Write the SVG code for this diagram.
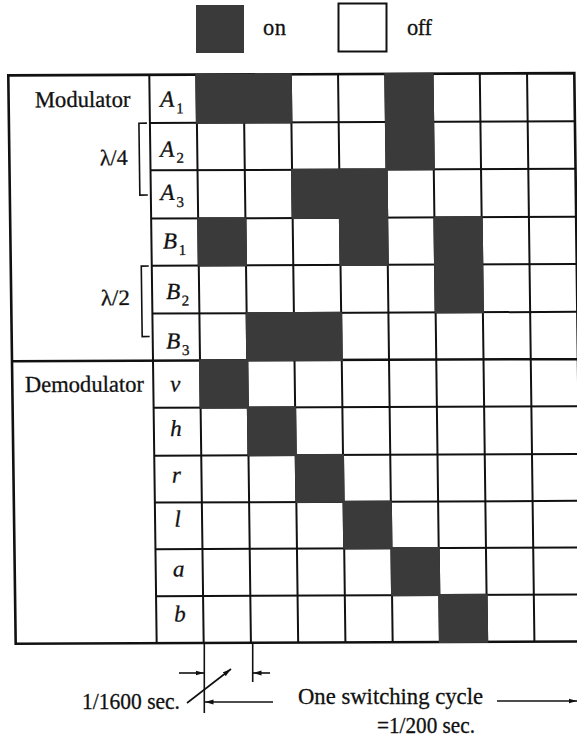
<svg xmlns="http://www.w3.org/2000/svg" width="577" height="740" viewBox="0 0 577 740">
<defs>
<style>
.t{font-family:"Liberation Serif","Times New Roman",serif;fill:#111;stroke:#111;stroke-width:0.3}
.it{font-family:"Liberation Serif","Times New Roman",serif;font-style:italic;fill:#111;stroke:#111;stroke-width:0.3}
.g{stroke:#111;stroke-width:2;fill:none}
.b{stroke:#111;stroke-width:2.6;fill:none}
.on{fill:#3a3a3a}
.ln{stroke:#111;stroke-width:1.6;fill:none}
</style>
<marker id="ah" markerUnits="userSpaceOnUse" markerWidth="9" markerHeight="6" refX="8.5" refY="3" orient="auto">
<path d="M0,0.6 L8.5,3 L0,5.4 z" fill="#111"/>
</marker>
</defs>
<rect width="577" height="740" fill="#fff"/>

<g id="legend">
<g id="legend-on"><rect class="on" x="196" y="5" width="48" height="48"/><text class="t" x="263" y="35" font-size="22.5" textLength="23">on</text></g>
<g id="legend-off"><rect x="338.5" y="3.5" width="48" height="48" fill="#fff" stroke="#111" stroke-width="2"/><text class="t" x="407" y="35" font-size="22.5" textLength="25">off</text></g>
</g>

<g id="table" transform="matrix(1,-0.004,0.013,1,-4.68,1.16)">
<g id="grid-lines">
<path class="g" d="M153,122.4H578 M153,169.8H578 M153,218H578 M153,265.1H578 M153,313H578 M153,407.3H578 M153,455.1H578 M153,502H578 M153,548.6H578 M153,595.6H578"/>
<path class="g" d="M153,74.3V642.6 M200,74.3V642.6 M247.25,74.3V642.6 M294.5,74.3V642.6 M341.75,74.3V642.6 M389,74.3V642.6 M436.25,74.3V642.6 M483.5,74.3V642.6 M530.75,74.3V642.6"/>
<path class="b" d="M12,74.3H578V642.6H12Z M12,360.1H578"/>
</g>
<g id="on-cells">
<rect class="on" x="199" y="73.3" width="96.5" height="50.1"/>
<rect class="on" x="388" y="73.3" width="49.25" height="97.5"/>
<rect class="on" x="293.5" y="168.8" width="96.5" height="50.2"/>
<rect class="on" x="340.75" y="168.8" width="49.25" height="97.3"/>
<rect class="on" x="199" y="217" width="49.25" height="49.1"/>
<rect class="on" x="435.25" y="217" width="49.25" height="97"/>
<rect class="on" x="246.25" y="312" width="96.5" height="49.1"/>
<rect class="on" x="199" y="359.1" width="49.25" height="49.2"/>
<rect class="on" x="246.25" y="406.3" width="49.25" height="49.8"/>
<rect class="on" x="293.5" y="454.1" width="49.25" height="48.9"/>
<rect class="on" x="340.75" y="501" width="49.25" height="48.6"/>
<rect class="on" x="388" y="547.6" width="49.25" height="49"/>
<rect class="on" x="435.25" y="594.6" width="49.25" height="49"/>
</g>
<g id="section-modulator">
<text class="t" x="38.3" y="106.2" font-size="23" textLength="95.5" lengthAdjust="spacingAndGlyphs">Modulator</text>
<g id="bracket-quarter"><path class="ln" d="M150,122.6H142V194.5H150" stroke-width="1.8"/><text class="t" x="102.5" y="164.4" font-size="22" textLength="27.7" lengthAdjust="spacingAndGlyphs">λ/4</text></g>
<g id="bracket-half"><path class="ln" d="M150,265.5H142.5V336H150" stroke-width="1.8"/><text class="t" x="101.7" y="304.4" font-size="22" textLength="29" lengthAdjust="spacingAndGlyphs">λ/2</text></g>
</g>
<g id="section-demodulator">
<text class="t" x="24.6" y="391" font-size="23" textLength="119" lengthAdjust="spacingAndGlyphs">Demodulator</text>
</g>
<g id="row-labels">
<g id="row-A1"><text class="it" x="163.5" y="106.2" font-size="23">A<tspan font-size="15" dx="2" dy="6.5" font-style="normal">1</tspan></text></g>
<g id="row-A2"><text class="it" x="163" y="156.3" font-size="23">A<tspan font-size="15" dx="2" dy="6" font-style="normal">2</tspan></text></g>
<g id="row-A3"><text class="it" x="162.5" y="199.5" font-size="23">A<tspan font-size="15" dx="2" dy="7" font-style="normal">3</tspan></text></g>
<g id="row-B1"><text class="it" x="164.5" y="248" font-size="23">B<tspan font-size="15" dx="1.5" dy="6.5" font-style="normal">1</tspan></text></g>
<g id="row-B2"><text class="it" x="167" y="298.5" font-size="23">B<tspan font-size="15" dx="1.5" dy="6.5" font-style="normal">2</tspan></text></g>
<g id="row-B3"><text class="it" x="166.5" y="348" font-size="23">B<tspan font-size="15" dx="1.5" dy="6.5" font-style="normal">3</tspan></text></g>
<g id="row-v"><text class="it" x="175" y="391" font-size="23" text-anchor="middle">v</text></g>
<g id="row-h"><text class="it" x="175" y="435.5" font-size="23" text-anchor="middle">h</text></g>
<g id="row-r"><text class="it" x="175" y="482" font-size="23" text-anchor="middle">r</text></g>
<g id="row-l"><text class="it" x="175.5" y="526" font-size="23" text-anchor="middle">l</text></g>
<g id="row-a"><text class="it" x="176" y="576" font-size="23" text-anchor="middle">a</text></g>
<g id="row-b"><text class="it" x="176.5" y="621" font-size="23" text-anchor="middle">b</text></g>
</g>
</g>

<g id="connectors">
<path class="ln" d="M204.3,642V713 M252.7,642V682"/>
<line class="ln" x1="179" y1="673" x2="204" y2="673" marker-end="url(#ah)"/>
<line class="ln" x1="270" y1="673" x2="253" y2="673" marker-end="url(#ah)"/>
<line class="ln" x1="187" y1="703" x2="231" y2="669" marker-end="url(#ah)"/>
<line class="ln" x1="273" y1="702" x2="205" y2="702" marker-end="url(#ah)"/>
<line class="ln" x1="497" y1="701" x2="577" y2="701" marker-end="url(#ah)"/>
</g>
<g id="annotations">
<text class="t" x="82" y="709" font-size="22.5" textLength="98" lengthAdjust="spacingAndGlyphs">1/1600 sec.</text>
<text class="t" x="298" y="703.5" font-size="23" textLength="185" lengthAdjust="spacingAndGlyphs">One switching cycle</text>
<text class="t" x="377" y="733" font-size="22.5" textLength="98" lengthAdjust="spacingAndGlyphs">=1/200 sec.</text>
</g>
</svg>
